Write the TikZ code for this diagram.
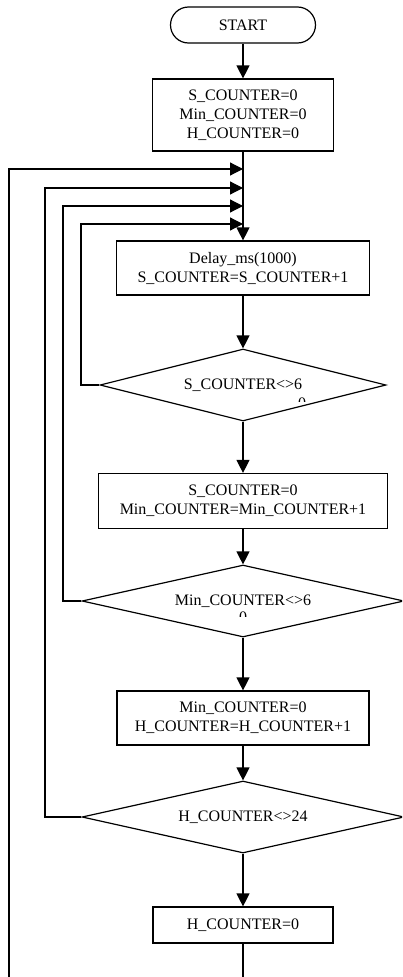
\documentclass[tikz,border=0pt]{standalone}
\usepackage{fontspec}
\setmainfont{Liberation Serif}
\usetikzlibrary{shapes.geometric,arrows.meta}

\tikzstyle{terminal}=[draw,rectangle,rounded corners=18pt,minimum width=145pt,minimum height=36pt,inner sep=0pt]
\tikzstyle{process}=[draw,rectangle,align=center,inner sep=0pt]
\tikzstyle{decision}=[draw,diamond,aspect=4,inner sep=0pt,minimum height=72pt]
\tikzstyle{cut}=[anchor=north,inner sep=0pt]

\begin{document}
\begin{tikzpicture}[x=1pt,y=-1pt,line width=1.2pt,font=\fontsize{16}{19}\selectfont]
	\useasboundingbox (0,0) rectangle (402,977);
	\clip (0,0) rectangle (402,977);
	\begin{scope}[>={Triangle[length=13pt,width=13pt]}]
		\node (start)[terminal]                                       at (243,25)  {START};
		\node (init)[process,minimum width=181pt,minimum height=72pt]   at (243,115) {S\_COUNTER=0\\Min\_COUNTER=0\\H\_COUNTER=0};
		\node (delay)[process,minimum width=253pt,minimum height=54pt]  at (243,268) {Delay\_ms(1000)\\S\_COUNTER=S\_COUNTER+1};
		\node (sec)[decision,minimum width=286pt]                       at (243,385) {S\_COUNTER<>6};
		\node (mreset)[process,minimum width=289pt,minimum height=55pt] at (243,501) {S\_COUNTER=0\\Min\_COUNTER=Min\_COUNTER+1};
		\node (min)[decision,minimum width=322pt]                       at (243,601) {Min\_COUNTER<>6};
		\node (hreset)[process,minimum width=252pt,minimum height=54pt] at (243,718) {Min\_COUNTER=0\\H\_COUNTER=H\_COUNTER+1};
		\node (hour)[decision,minimum width=322pt]                      at (243,817) {H\_COUNTER<>24};
		\node (hzero)[process,minimum width=180pt,minimum height=36pt]  at (243,925) {H\_COUNTER=0};
		
		% second lines of the first two conditions, cut off
		\begin{scope}
			\clip (285,395) rectangle (320,401);
			\node (sec0)[cut] at (302,397) {0};
		\end{scope}
		\begin{scope}
			\clip (228,609) rectangle (258,616);
			\node (min0)[cut] at (243,611) {0};
		\end{scope}
		
		% joints on the main line and corners of the loops
		\foreach \nr/\lx/\jy in {1/9/169, 2/45/188, 3/63/206, 4/81/224}{
			\coordinate (j\nr) at (243,\jy);
			\coordinate (l\nr) at (\lx,\jy);
		}
		
		\draw[->] (start) -- (init);
		\draw[->] (init) -- (delay);
		\draw[->] (delay) -- (sec);
		\draw[->] (sec) -- (mreset);
		\draw[->] (mreset) -- (min);
		\draw[->] (min) -- (hreset);
		\draw[->] (hreset) -- (hour);
		\draw[->] (hour) -- (hzero);
		
		\draw[->] (sec.west) -| (l4) -- (j4);
		\draw[->] (min.west) -| (l3) -- (j3);
		\draw[->] (hour.west) -| (l2) -- (j2);
		\draw[->] (hzero.south) -- ++(0,60) -| (l1) -- (j1);
	\end{scope}
\end{tikzpicture}
\end{document}
